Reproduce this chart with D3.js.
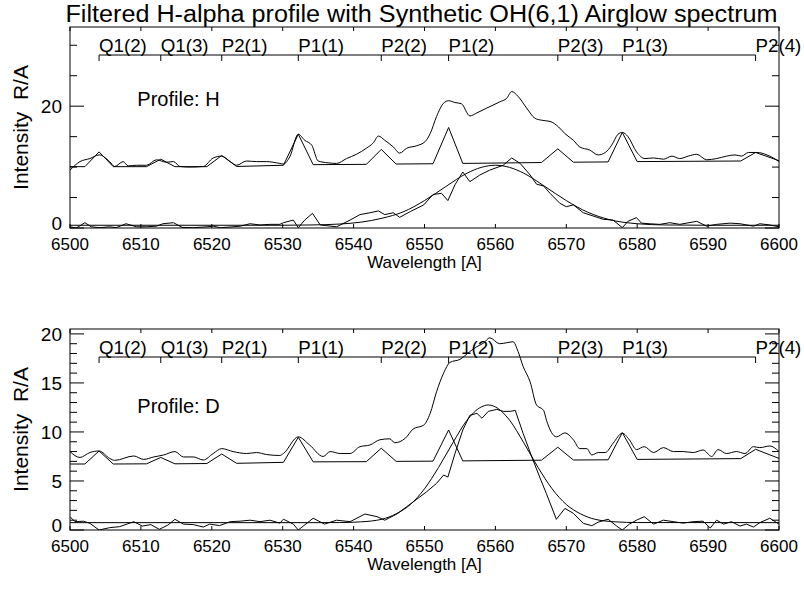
<!DOCTYPE html>
<html>
<head>
<meta charset="utf-8">
<script src="https://cdn.jsdelivr.net/npm/d3@7"></script>
<style>
  body { margin: 0; background: #fff; }
  svg { display: block; }
  text { font-family: "Liberation Sans", Arial, Helvetica, sans-serif; fill: #000; }
</style>
</head>
<body>
<div id="chart"></div>
<script>
// ---- data ----
var titleText = "Filtered H-alpha profile with Synthetic OH(6,1) Airglow spectrum";
var xTickValues = [6500, 6510, 6520, 6530, 6540, 6550, 6560, 6570, 6580, 6590, 6600];

// OH(6,1) line names and positions [A]
var lineNames = ["Q1(2)", "Q1(3)", "P2(1)", "P1(1)", "P2(2)", "P1(2)", "P2(3)", "P1(3)", "P2(4)"];
var linePos = [6504.1, 6512.8, 6521.4, 6532.2, 6543.9, 6553.4, 6568.8, 6577.9, 6596.7];

// panel H : observed profile
var obsH_w = [6500.0, 6501.4, 6502.8, 6504.1, 6505.6, 6506.3, 6507.5, 6508.2, 6509.4, 6510.8, 6512.2, 6513.6, 6514.6, 6515.5, 6516.9, 6518.8, 6520.2, 6521.4, 6522.6, 6523.5, 6524.9, 6526.3, 6527.7, 6529.6,
  6530.1, 6531.0, 6532.2, 6533.1, 6534.1, 6535.0, 6536.4, 6537.6, 6539.0, 6540.4, 6541.8, 6542.8, 6543.5, 6544.4, 6545.6, 6546.5, 6547.5, 6548.9, 6550.1, 6550.8, 6551.7, 6552.7, 6553.4, 6554.3, 6555.2, 6556.4, 6557.4, 6558.8, 6560.6, 6561.6, 6562.3, 6563.2, 6564.4, 6565.6, 6566.5,
  6567.7, 6568.9, 6569.8, 6571.0, 6571.9, 6573.3, 6574.5, 6575.5, 6576.4, 6577.3, 6577.9, 6578.7, 6579.9, 6581.1, 6582.3, 6583.7, 6584.9, 6586.0, 6587.2, 6588.4, 6589.8, 6591.2, 6592.6, 6593.8, 6594.7, 6595.7, 6596.9, 6598.3, 6599.2, 6600.0];
var obsH_v = [9.5, 10.9, 11.4, 12.0, 10.9, 10.1, 10.9, 10.2, 10.3, 10.3, 11.2, 10.8, 10.9, 10.1, 10.0, 10.1, 11.5, 11.8, 10.9, 10.3, 11.0, 10.9, 10.9, 10.6,
  10.5, 11.7, 15.4, 14.4, 13.6, 11.0, 10.7, 10.6, 11.4, 12.1, 13.1, 14.0, 15.1, 14.4, 13.3, 12.3, 13.1, 13.5, 14.2, 15.5, 18.3, 20.5, 20.9, 20.6, 20.4, 18.4, 18.9, 19.7, 20.7, 21.3, 22.4, 21.6, 19.7, 18.0, 17.7,
  17.5, 16.6, 15.5, 14.4, 13.3, 12.8, 12.0, 12.4, 13.6, 15.4, 15.7, 15.0, 12.5, 11.4, 11.5, 11.3, 11.8, 11.4, 11.8, 12.1, 11.2, 11.4, 11.8, 12.0, 11.8, 12.4, 12.4, 12.0, 11.5, 10.9];

// panel H : synthetic OH spectrum
var synH_w = [6500, 6502.1, 6504.1, 6506.1, 6510.8, 6512.8, 6514.8, 6519.3, 6521.4, 6523.5, 6530.1, 6532.2, 6534.3, 6541.8, 6543.9, 6546.0, 6551.2, 6553.4, 6555.4, 6566.5, 6568.8, 6571.0, 6575.9, 6577.9, 6580.0, 6594.6, 6596.7, 6600];
var synH_v = [10.07, 10.07, 12.5, 10.07, 10.07, 11.3, 10.07, 10.07, 11.9, 10.1, 10.3, 15.4, 10.4, 10.45, 12.9, 10.5, 10.55, 16.5, 10.6, 10.75, 13.0, 10.8, 10.85, 15.7, 10.9, 11.0, 12.4, 11.05];

// panel H : residual (observed - synthetic)
var resH_w = [6500.0, 6500.9, 6502.1, 6503.0, 6504.2, 6505.6, 6506.5, 6507.9, 6509.4, 6510.8, 6512.2, 6513.1, 6514.6, 6515.8, 6517.4, 6519.3, 6520.2, 6521.2, 6523.0, 6524.0, 6525.4, 6526.8, 6528.2, 6529.6,
  6530.1, 6531.5, 6532.2, 6533.1, 6534.2, 6535.3, 6537.6, 6539.5, 6540.9, 6542.3, 6543.5, 6544.4, 6545.6, 6546.5, 6548.0, 6549.9, 6551.2, 6552.4, 6553.3, 6554.3, 6555.4, 6556.4, 6557.8, 6559.2, 6561.1, 6562.3, 6563.5, 6564.9, 6565.8, 6566.8,
  6567.7, 6569.1, 6570.0, 6571.0, 6572.4, 6573.8, 6575.2, 6576.6, 6577.9, 6578.7, 6579.9, 6580.6, 6581.7, 6583.2, 6584.6, 6586.0, 6588.4, 6589.8, 6591.2, 6593.1, 6594.5, 6596.4, 6597.3, 6598.7, 6600.0];
var resH_v = [0.2, 0.0, 0.87, 0.2, 0.05, 0.2, 0.05, 0.7, 0.2, 0.2, 0.3, 0.7, 0.87, 0.1, 0.05, 0.2, 0.3, 0.05, 0.2, 0.3, 0.7, 0.5, 0.6, 0.6,
  0.87, 1.3, 0.05, 1.3, 2.4, 0.5, 0.2, 1.3, 2.2, 2.5, 2.8, 2.2, 2.5, 1.75, 2.7, 3.8, 5.5, 5.7, 4.5, 7.1, 9.2, 7.6, 8.7, 9.5, 10.3, 11.5, 10.6, 8.7, 7.2, 6.9,
  5.7, 4.05, 3.5, 3.8, 2.5, 1.97, 1.43, 1.3, 0.05, 1.1, 1.7, 0.8, 0.7, 0.6, 0.87, 0.6, 1.1, 0.3, 0.6, 0.8, 0.7, 0.3, 0.7, 0.5, 0.2];

// panel H : gaussian fit of the residual
var fitH_w = [6500, 6530, 6534, 6538, 6541, 6544, 6547, 6550, 6553, 6556, 6558, 6560, 6562, 6564, 6567, 6570, 6573, 6576, 6580, 6584, 6590, 6600];
var fitH_v = [0.45, 0.45, 0.5, 0.65, 0.95, 1.6, 2.65, 4.5, 6.8, 9.0, 9.95, 10.3, 9.95, 9.0, 6.8, 4.5, 2.6, 1.4, 0.7, 0.5, 0.45, 0.45];

// panel D : observed profile
var obsD_w = [6500.0, 6501.4, 6502.8, 6504.1, 6505.6, 6506.3, 6509.0, 6510.4, 6511.8, 6513.2, 6514.8, 6516.0, 6517.4, 6518.8, 6520.2, 6521.4, 6523.0, 6524.9, 6526.3, 6527.7, 6529.6,
  6530.1, 6532.2, 6533.8, 6535.7, 6536.7, 6538.1, 6539.5, 6540.9, 6542.3, 6543.7, 6545.1, 6545.8, 6547.3, 6548.4, 6549.9, 6550.8, 6551.7, 6552.7, 6553.6, 6555.0, 6556.4, 6557.4, 6558.3, 6559.2, 6560.6, 6561.6, 6562.5, 6563.2, 6563.9, 6564.9, 6565.8, 6566.8,
  6567.2, 6568.6, 6569.8, 6571.0, 6571.9, 6572.9, 6573.6, 6574.5, 6575.5, 6576.6, 6577.9, 6578.9, 6579.9, 6581.0, 6582.3, 6583.7, 6585.1, 6586.5, 6587.9, 6589.3, 6590.5, 6591.4, 6592.6, 6594.0, 6595.2, 6596.4, 6597.3, 6598.7, 6600.0];
var obsD_v = [8.0, 7.4, 7.9, 8.06, 7.3, 7.1, 7.55, 7.2, 7.45, 7.65, 8.0, 7.45, 7.45, 7.14, 7.8, 8.3, 8.0, 7.8, 7.9, 7.7, 7.6,
  7.8, 9.5, 8.67, 7.5, 8.0, 7.8, 7.8, 8.5, 8.67, 9.2, 9.3, 8.9, 9.36, 10.3, 10.7, 11.9, 14.1, 16.0, 17.1, 17.4, 18.2, 18.7, 19.05, 19.6, 19.0, 19.1, 19.2, 18.2, 16.7, 15.1, 12.75, 12.2,
  11.2, 9.5, 9.9, 9.2, 8.3, 8.3, 7.65, 7.9, 7.9, 8.85, 9.87, 9.2, 8.2, 8.5, 7.9, 8.4, 8.0, 8.0, 7.9, 8.16, 7.5, 8.2, 7.8, 8.0, 7.8, 8.5, 8.4, 8.57, 8.0];

// panel D : synthetic OH spectrum
var synD_w = [6500, 6502.1, 6504.1, 6506.1, 6510.8, 6512.8, 6514.8, 6519.3, 6521.4, 6523.5, 6530.1, 6532.2, 6534.3, 6541.8, 6543.9, 6546.0, 6551.2, 6553.4, 6555.4, 6566.5, 6568.8, 6571.0, 6575.9, 6577.9, 6580.0, 6594.6, 6596.7, 6600];
var synD_v = [6.73, 6.73, 8.06, 6.73, 6.75, 7.4, 6.75, 6.78, 7.75, 6.8, 6.9, 9.46, 6.95, 6.97, 8.34, 7.0, 7.02, 10.2, 7.05, 7.12, 8.44, 7.14, 7.16, 9.93, 7.2, 7.28, 8.23, 7.3];

// panel D : residual
var resD_w = [6500.0, 6500.7, 6501.9, 6502.8, 6504.1, 6505.6, 6507.0, 6509.0, 6510.2, 6511.4, 6512.6, 6513.8, 6514.8, 6516.0, 6517.4, 6518.8, 6519.7, 6521.1, 6522.6, 6524.0, 6525.4, 6526.8, 6528.2, 6529.6,
  6530.1, 6531.5, 6532.2, 6534.3, 6535.9, 6537.6, 6539.5, 6541.6, 6543.3, 6544.4, 6546.1, 6547.5, 6548.9, 6550.3, 6551.7, 6552.7, 6553.3, 6554.3, 6555.4, 6556.4, 6557.4, 6558.1, 6559.0, 6560.2, 6561.1, 6562.1, 6562.8, 6563.9, 6565.3, 6566.3,
  6567.2, 6568.6, 6569.8, 6571.0, 6572.4, 6573.6, 6574.5, 6575.9, 6577.1, 6577.9, 6578.9, 6579.9, 6581.0, 6582.3, 6583.7, 6585.1, 6586.5, 6587.9, 6589.3, 6590.3, 6591.2, 6592.2, 6593.3, 6594.5, 6595.4, 6596.4, 6597.3, 6598.7, 6600.0];
var resD_v = [1.36, 0.85, 0.9, 0.68, 0.0, 0.24, 0.34, 0.85, 0.4, 0.55, 0.07, 0.5, 1.09, 0.6, 0.55, 0.3, 0.6, 0.45, 0.85, 0.9, 1.0, 0.85, 1.0, 0.7,
  1.1, 0.6, 0.0, 1.2, 0.6, 1.0, 0.85, 1.63, 1.36, 1.0, 1.63, 2.38, 3.13, 3.9, 4.76, 5.6, 5.4, 7.8, 10.2, 11.7, 11.9, 11.4, 12.1, 12.3, 12.1, 12.1, 12.2, 9.87, 7.14, 5.3,
  3.7, 1.09, 2.2, 1.7, 0.68, 0.44, 0.8, 1.1, 0.4, 0.0, 0.6, 1.0, 1.36, 0.6, 1.0, 0.85, 0.7, 0.85, 0.9, 0.2, 1.0, 0.6, 0.85, 0.4, 0.6, 0.3, 0.75, 1.2, 0.6];

// panel D : gaussian fit
var fitD_w = [6500, 6535, 6538, 6541, 6544, 6546, 6548, 6550, 6552, 6554, 6556, 6558, 6559, 6560, 6562, 6564, 6566, 6568, 6570, 6572, 6574, 6577, 6580, 6600];
var fitD_v = [0.75, 0.75, 0.76, 0.83, 1.1, 1.65, 2.6, 4.2, 6.4, 8.9, 11.2, 12.55, 12.75, 12.55, 11.2, 8.9, 6.4, 4.2, 2.6, 1.65, 1.1, 0.83, 0.76, 0.75];

// ---- layout ----
var W = 804, H = 590;
var left = 70, right = 779;

var svg = d3.select("#chart").append("svg")
  .attr("width", W)
  .attr("height", H);

// title: a bit condensed like the original output
svg.append("text")
  .attr("x", (left + right) / 2 - 3)
  .attr("y", 22)
  .attr("text-anchor", "middle")
  .attr("textLength", 712)
  .attr("lengthAdjust", "spacingAndGlyphs")
  .style("font-size", "23px")
  .text(titleText);

function zip(w, v) {
  return w.map(function(d, i) { return [d, v[i]]; });
}

function drawPanel(p) {
  var x = d3.scaleLinear().domain([6500, 6600]).range([left, right]);
  var y = d3.scaleLinear().domain(p.yDomain).range([p.bottom, p.top]);
  var g = svg.append("g");

  // frame
  g.append("rect")
    .attr("x", left).attr("y", p.top)
    .attr("width", right - left).attr("height", p.bottom - p.top)
    .attr("fill", "none").attr("stroke", "#000").attr("stroke-width", 1);

  // x ticks bottom + top
  xTickValues.forEach(function(t) {
    g.append("line").attr("x1", x(t)).attr("x2", x(t))
      .attr("y1", p.bottom).attr("y2", p.bottom - 4).attr("stroke", "#000");
    g.append("line").attr("x1", x(t)).attr("x2", x(t))
      .attr("y1", p.top).attr("y2", p.top + 4).attr("stroke", "#000");
    g.append("text")
      .attr("x", x(t)).attr("y", p.bottom + 22)
      .attr("text-anchor", "middle")
      .style("font-size", "17px")
      .text(t);
  });

  // y ticks left + right
  p.minorTicks.forEach(function(t) {
    var major = p.majorTicks.indexOf(t) >= 0;
    var len = major ? 14 : 7;
    g.append("line").attr("x1", left).attr("x2", left + len)
      .attr("y1", y(t)).attr("y2", y(t)).attr("stroke", "#000");
    g.append("line").attr("x1", right).attr("x2", right - len)
      .attr("y1", y(t)).attr("y2", y(t)).attr("stroke", "#000");
  });
  p.majorTicks.forEach(function(t) {
    g.append("text")
      .attr("x", left - 8)
      .attr("y", y(t) + 7 - (t === 0 ? 5 : 0))
      .attr("text-anchor", "end")
      .style("font-size", "19px")
      .text(t);
  });

  // axis titles
  g.append("text")
    .attr("x", (left + right) / 2).attr("y", p.bottom + 40)
    .attr("text-anchor", "middle")
    .style("font-size", "17px")
    .text("Wavelength [A]");
  g.append("text")
    .attr("transform", "translate(28," + (p.top + p.bottom) / 2 + ") rotate(-90)")
    .attr("text-anchor", "middle")
    .style("font-size", "21px")
    .style("white-space", "pre")
    .text("Intensity  R/A");

  // profile label
  g.append("text")
    .attr("x", x(p.labelAt[0])).attr("y", y(p.labelAt[1]))
    .style("font-size", "20px")
    .text(p.label);

  // line identification bracket
  var by = p.top + 28;
  g.append("line")
    .attr("x1", x(linePos[0])).attr("x2", x(linePos[linePos.length - 1]))
    .attr("y1", by).attr("y2", by).attr("stroke", "#000");
  linePos.forEach(function(lp, i) {
    g.append("line").attr("x1", x(lp)).attr("x2", x(lp))
      .attr("y1", by).attr("y2", by + 6).attr("stroke", "#000");
    g.append("text")
      .attr("x", x(lp)).attr("y", by - 3)
      .style("font-size", "18.7px")
      .text(lineNames[i]);
  });

  // data lines
  var lineSmooth = d3.line()
    .x(function(d) { return x(d[0]); })
    .y(function(d) { return y(d[1]); })
    .curve(d3.curveMonotoneX);
  var lineStraight = d3.line()
    .x(function(d) { return x(d[0]); })
    .y(function(d) { return y(d[1]); });

  var clip = "clip" + p.id;
  svg.append("clipPath").attr("id", clip).append("rect")
    .attr("x", left).attr("y", p.top)
    .attr("width", right - left).attr("height", p.bottom - p.top);
  var lg = g.append("g").attr("clip-path", "url(#" + clip + ")");

  [
    [p.obs, lineSmooth],
    [p.syn, lineStraight],
    [p.res, lineStraight],
    [p.fit, lineSmooth]
  ].forEach(function(s) {
    lg.append("path")
      .attr("d", s[1](s[0]))
      .attr("fill", "none")
      .attr("stroke", "#000")
      .attr("stroke-width", 1);
  });
}

drawPanel({
  id: "H", top: 27, bottom: 228, yDomain: [0, 33],
  majorTicks: [0, 20], minorTicks: [0, 5, 10, 15, 20, 25, 30],
  label: "Profile: H", labelAt: [6509.5, 20],
  obs: zip(obsH_w, obsH_v), syn: zip(synH_w, synH_v),
  res: zip(resH_w, resH_v), fit: zip(fitH_w, fitH_v)
});

drawPanel({
  id: "D", top: 329, bottom: 530, yDomain: [0, 20.5],
  majorTicks: [0, 5, 10, 15, 20], minorTicks: d3.range(0, 21),
  label: "Profile: D", labelAt: [6509.5, 11.9],
  obs: zip(obsD_w, obsD_v), syn: zip(synD_w, synD_v),
  res: zip(resD_w, resD_v), fit: zip(fitD_w, fitD_v)
});
</script>
</body>
</html>
